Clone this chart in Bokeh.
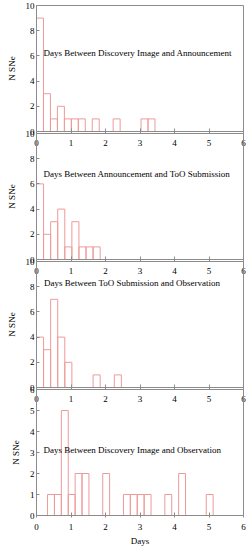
from bokeh.plotting import figure
from bokeh.layouts import column
from bokeh.models import Range1d, FixedTicker, Label, ColumnDataSource
from bokeh.embed import file_html
from bokeh.resources import INLINE

# ---- data ----
x_ticks = [0, 1, 2, 3, 4, 5, 6]
y_ticks_10 = [0, 2, 4, 6, 8, 10]
y_ticks_6 = [0, 1, 2, 3, 4, 5, 6]

title_disc_ann = "Days Between Discovery Image and Announcement"
title_ann_too = "Days Between Announcement and ToO Submission"
title_too_obs = "Days Between ToO Submission and Observation"
title_disc_obs = "Days Between Discovery Image and Observation"

# histogram: first bin start, bin width (days), counts per bin
start_disc_ann, width_disc_ann = 0.0, 0.202
counts_disc_ann = [9, 3, 1, 2, 1, 1, 1, 0, 1, 0, 0, 1, 0, 0, 0, 1, 1]

start_ann_too, width_ann_too = 0.0, 0.205
counts_ann_too = [6, 2, 3, 4, 1, 3, 1, 1, 1]

start_too_obs, width_too_obs = 0.0, 0.205
counts_too_obs = [4, 3, 7, 4, 2, 0, 0, 0, 1, 0, 0, 1]

start_disc_obs, width_disc_obs = 0.32, 0.2
counts_disc_obs = [1, 1, 5, 1, 2, 2, 0, 0, 2, 0, 0, 1, 1, 1, 1, 0, 0, 1, 0, 2, 0, 0, 0, 1]

y_max = [10, 10, 10, 6]
label_pos = [(0.2, 6.25), (0.2, 6.8), (0.22, 8.28), (0.2, 3.12)]

# ---- style ----
FONT = "Liberation Serif"
FS = "9px"
AXIS_GRAY = "#8c8c8c"
BAR_PINK = "#ee9a9a"

panels = [
    (title_disc_ann, start_disc_ann, width_disc_ann, counts_disc_ann, y_ticks_10),
    (title_ann_too, start_ann_too, width_ann_too, counts_ann_too, y_ticks_10),
    (title_too_obs, start_too_obs, width_too_obs, counts_too_obs, y_ticks_10),
    (title_disc_obs, start_disc_obs, width_disc_obs, counts_disc_obs, y_ticks_6),
]

FRAME_H = 126
figs = []
for i, (title, start, width, counts, yt) in enumerate(panels):
    last = i == len(panels) - 1
    top_b = 5 if i == 0 else 6
    bot_b = 33 if last else 24
    p = figure(width=250, height=top_b + FRAME_H + bot_b,
               x_range=Range1d(0, 6), y_range=Range1d(0, y_max[i]),
               output_backend="svg", toolbar_location=None,
               min_border_left=36, min_border_right=7,
               min_border_top=top_b, min_border_bottom=bot_b)
    if i > 0:
        p.margin = (-28, 0, 0, 0)
    p.background_fill_alpha = 0
    p.border_fill_alpha = 0
    p.grid.visible = False
    p.outline_line_color = AXIS_GRAY
    p.outline_line_width = 1

    n = len(counts)
    left = [start + k * width for k in range(n)]
    right = [start + (k + 1) * width for k in range(n)]
    src = ColumnDataSource(dict(left=left, right=right, top=counts, bottom=[0] * n))
    p.quad(left="left", right="right", top="top", bottom="bottom", source=src,
           fill_color=None, line_color=BAR_PINK, line_width=1)

    for ax in (p.xaxis[0], p.yaxis[0]):
        ax.axis_line_color = AXIS_GRAY
        ax.major_tick_line_color = AXIS_GRAY
        ax.minor_tick_line_color = None
        ax.major_label_text_font = FONT
        ax.major_label_text_font_size = FS
        ax.major_label_text_color = "black"
        ax.axis_label_text_font = FONT
        ax.axis_label_text_font_size = FS
        ax.axis_label_text_font_style = "normal"
        ax.axis_label_text_color = "black"

    p.xaxis.ticker = FixedTicker(ticks=x_ticks)
    p.xaxis.major_tick_in = 3
    p.xaxis.major_tick_out = 2
    p.xaxis.major_label_standoff = 6
    if last:
        p.xaxis.axis_label = "Days"
        p.xaxis.axis_label_standoff = 3

    p.yaxis.ticker = FixedTicker(ticks=yt)
    p.yaxis.major_tick_in = 3
    p.yaxis.major_tick_out = 0
    p.yaxis.major_label_standoff = 2
    p.yaxis.axis_label = "N SNe"
    p.yaxis.axis_label_standoff = 6

    lx, ly = label_pos[i]
    p.add_layout(Label(x=lx, y=ly, text=title, text_font=FONT, text_font_size=FS,
                       text_color="black", text_align="left", text_baseline="middle"))
    figs.append(p)

layout = column(*figs, spacing=0)
open("out.html", "w").write(file_html(layout, INLINE))
